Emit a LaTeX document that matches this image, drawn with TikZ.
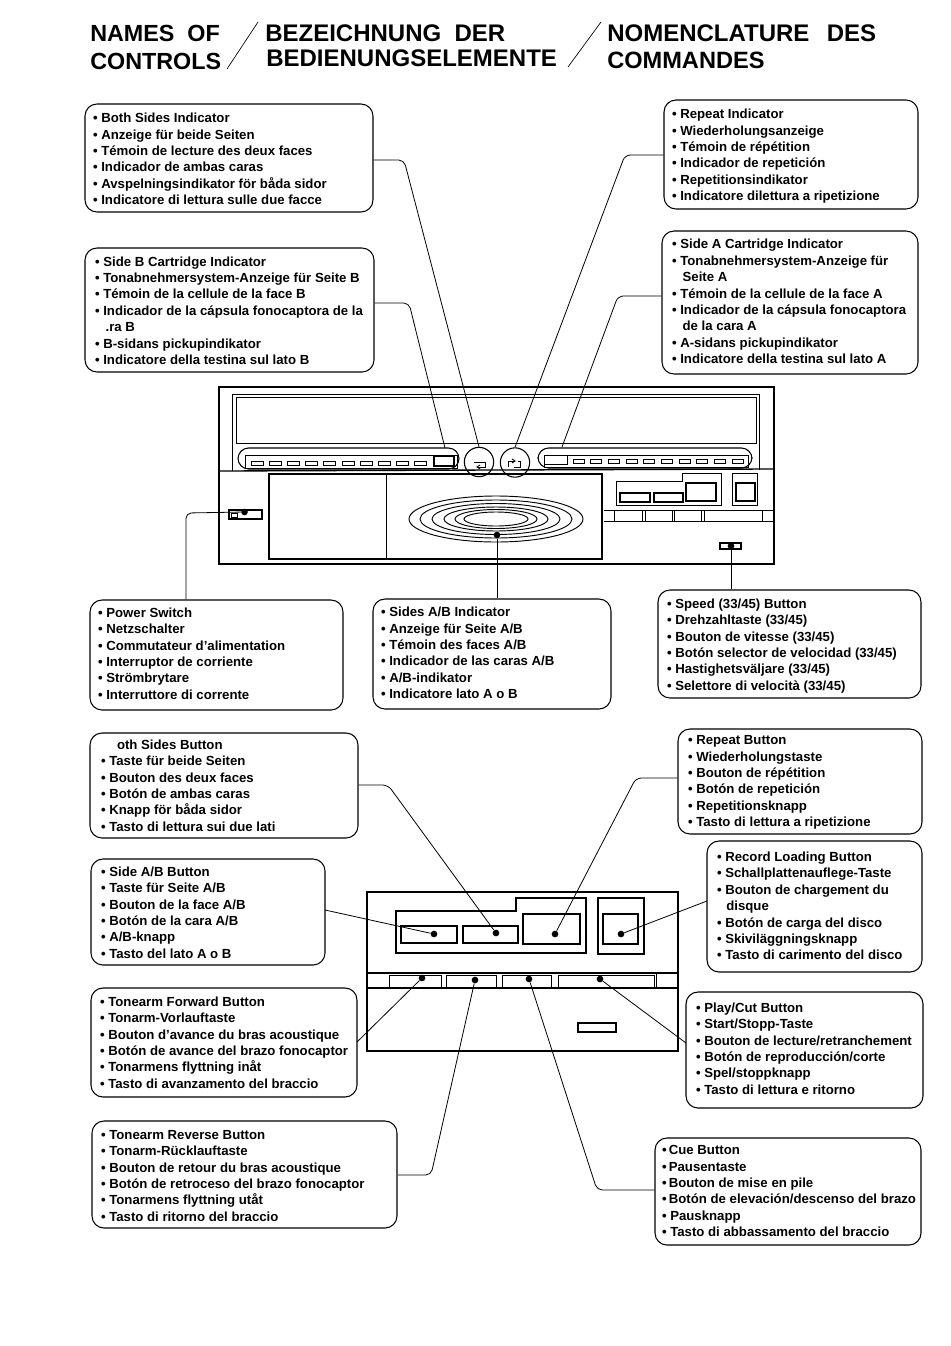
\documentclass[tikz,border=0pt]{standalone}
\usepackage{fontspec}
\setmainfont{Liberation Sans}
\usetikzlibrary{calc}
\newlength{\bw}\newlength{\bh}\newlength{\dyl}
\newlength{\pxu}\setlength{\pxu}{0.75pt}
% name, x1, y1, x2, y2, left pad (px), downward shift (px), lines
\newcommand{\infob}[8]{%
  \pgfmathsetlength{\bw}{(#4-#2)*0.75pt}\pgfmathsetlength{\bh}{(#5-#3)*0.75pt}\pgfmathsetlength{\dyl}{2*#7*0.75pt}%
  \node[infobox,minimum width=\bw,minimum height=\bh] (#1) at ({(#2+#4)/2},{(#3+#5)/2})
   {\vbox{\kern\dyl\hbox to \bw{\hskip #6\pxu\begin{tabular}[c]{@{}l@{}}#8\end{tabular}\hss}}};}
\newcommand{\pt}{•\ }
\newcommand{\tp}{•\,}
\tikzset{
  infobox/.style={draw=black,line width=0.8pt,rounded corners=9pt,inner sep=0pt,
    font=\bfseries\fontsize{9.9}{12.3}\selectfont},
  conn/.style={draw=black,line width=0.6pt,rounded corners=4pt},
  dev/.style={draw=black,line width=1pt},
  thin part/.style={draw=black,line width=0.7pt},
  knob/.style={circle,fill=black,inner sep=0pt,minimum size=5pt},
  ttl/.style={font=\bfseries\fontsize{18}{20}\selectfont,inner sep=0pt,anchor=west},
  slash/.style={draw=black,line width=0.5pt},
  ring/.style={draw=black,line width=0.7pt},
  badge/.style={circle,draw=black,line width=0.8pt,inner sep=0pt,minimum size=22pt},
}
\begin{document}
\begin{tikzpicture}[x=0.75pt,y=-0.75pt]
\useasboundingbox (0,0) rectangle (950,1346);
% title
\node[ttl,font=\bfseries\fontsize{17.5}{20}\selectfont] (t1) at (90,33) {NAMES\ \ OF};
\node[ttl,font=\bfseries\fontsize{17.5}{20}\selectfont] (t2) at (90,61) {CONTROLS};
\node[ttl] (t3) at (265,33) {BEZEICHNUNG\ \ DER};
\node[ttl] (t4) at (266,58) {BEDIENUNGSELEMENTE};
\node[ttl] (t5) at (607,33) {NOMENCLATURE\ \ \,DES};
\node[ttl,font=\bfseries\fontsize{17.7}{20}\selectfont] (t6) at (607,60) {COMMANDES};
\coordinate (s1a) at (258,22);\coordinate (s1b) at (227,69);
\coordinate (s2a) at (601,22);\coordinate (s2b) at (568,67);
\draw[slash] (s1a) -- (s1b);
\draw[slash] (s2a) -- (s2b);

% boxes
\infob{b1}{85}{104}{373}{212}{8}{2.5}{\pt Both Sides Indicator\\\pt Anzeige für beide Seiten\\\pt Témoin de lecture des deux faces\\\pt Indicador de ambas caras\\\pt Avspelningsindikator för båda sidor\\\pt Indicatore di lettura sulle due facce}
\infob{b2}{85}{248}{374}{372}{10}{2}{\pt Side B Cartridge Indicator\\\pt Tonabnehmersystem-Anzeige für Seite B\\\pt Témoin de la cellule de la face B\\\pt Indicador de la cápsula fonocaptora de la\\\hspace{8pt}.ra B\\\pt B-sidans pickupindikator\\\pt Indicatore della testina sul lato B}
\infob{b3}{664}{100}{918}{209}{8}{2}{\pt Repeat Indicator\\\pt Wiederholungsanzeige\\\pt Témoin de répétition\\\pt Indicador de repetición\\\pt Repetitionsindikator\\\pt Indicatore dilettura a ripetizione}
\infob{b4}{662}{231}{918}{374}{10}{0.5}{\pt Side A Cartridge Indicator\\\pt Tonabnehmersystem-Anzeige für\\\hspace{8pt}Seite A\\\pt Témoin de la cellule de la face A\\\pt Indicador de la cápsula fonocaptora\\\hspace{8pt}de la cara A\\\pt A-sidans pickupindikator\\\pt Indicatore della testina sul lato A}
\infob{b5}{90}{600}{343}{710}{8}{0}{\pt Power Switch\\\pt Netzschalter\\\pt Commutateur d'alimentation\\\pt Interruptor de corriente\\\pt Strömbrytare\\\pt Interruttore di corrente}
\infob{b6}{373}{599}{611}{709}{8}{0.5}{\pt Sides A/B Indicator\\\pt Anzeige für Seite A/B\\\pt Témoin des faces A/B\\\pt Indicador de las caras A/B\\\pt A/B-indikator\\\pt Indicatore lato A o B}
\infob{b7}{658}{590}{921}{698}{9}{2}{\pt Speed (33/45) Button\\\pt Drehzahltaste (33/45)\\\pt Bouton de vitesse (33/45)\\\pt Botón selector de velocidad (33/45)\\\pt Hastighetsväljare (33/45)\\\pt Selettore di velocità (33/45)}
\infob{b8}{90}{733}{358}{838}{11}{1.5}{\hspace{12pt}oth Sides Button\\\pt Taste für beide Seiten\\\pt Bouton des deux faces\\\pt Botón de ambas caras\\\pt Knapp för båda sidor\\\pt Tasto di lettura sui due lati}
\infob{b9}{678}{729}{922}{834}{10}{1}{\pt Repeat Button\\\pt Wiederholungstaste\\\pt Bouton de répétition\\\pt Botón de repetición\\\pt Repetitionsknapp\\\pt Tasto di lettura a ripetizione}
\infob{b10}{91}{859}{325}{965}{10}{2}{\pt Side A/B Button\\\pt Taste für Seite A/B\\\pt Bouton de la face A/B\\\pt Botón de la cara A/B\\\pt A/B-knapp\\\pt Tasto del lato A o B}
\infob{b11}{707}{841}{922}{972}{10}{1}{\pt Record Loading Button\\\pt Schallplattenauflege-Taste\\\pt Bouton de chargement du\\\hspace{7pt}disque\\\pt Botón de carga del disco\\\pt Skiviläggningsknapp\\\pt Tasto di carimento del disco}
\infob{b12}{91}{988}{357}{1097}{9}{1.5}{\pt Tonearm Forward Button\\\pt Tonarm-Vorlauftaste\\\pt Bouton d'avance du bras acoustique\\\pt Botón de avance del brazo fonocaptor\\\pt Tonarmens flyttning inåt\\\pt Tasto di avanzamento del braccio}
\infob{b13}{686}{992}{923}{1108}{10}{0}{\pt Play/Cut Button\\\pt Start/Stopp-Taste\\\pt Bouton de lecture/retranchement\\\pt Botón de reproducción/corte\\\pt Spel/stoppknapp\\\pt Tasto di lettura e ritorno}
\infob{b14}{92}{1121}{397}{1228}{9}{2.5}{\pt Tonearm Reverse Button\\\pt Tonarm-Rücklauftaste\\\pt Bouton de retour du bras acoustique\\\pt Botón de retroceso del brazo fonocaptor\\\pt Tonarmens flyttning utåt\\\pt Tasto di ritorno del braccio}
\infob{b15}{655}{1138}{921}{1245}{7}{1}{\tp Cue Button\\\tp Pausentaste\\\tp Bouton de mise en pile\\\tp Botón de elevación/descenso del brazo\\\pt Pausknapp\\\pt Tasto di abbassamento del braccio}

% upper device
\draw[dev] (219,387) rectangle (774,564);
\draw[dev] (219,471) -- (774,469);
\draw[thin part] (232,471) -- (232,394) -- (759,394) -- (759,470);
\draw[thin part] (236,443) -- (236,397) -- (756,397) -- (756,443) -- cycle;
\node[draw=black,line width=0.8pt,fill=white,rounded corners=8pt,inner sep=0pt,minimum width=165.75pt,minimum height=15.75pt] (pl) at (348.5,458.5) {};
\node[draw=black,line width=0.8pt,fill=white,rounded corners=8pt,inner sep=0pt,minimum width=160.5pt,minimum height=15pt] (pr) at (645,458) {};
\draw[thin part] (245,468) -- (245,455) -- (457,455) -- (457,468) -- cycle;
\draw[thin part] (544,467) -- (544,455) -- (748,455) -- (748,467) -- cycle;
\foreach \i in {0,...,9} {\draw[thin part] ({251+\i*18.2},461) rectangle ++(12,4.5);}
\foreach \i in {0,...,9} {\draw[thin part] ({573+\i*17.7},459) rectangle ++(11,4.5);}
\node[draw=black,line width=1pt,inner sep=0pt,minimum width=15pt,minimum height=7.5pt] (bl) at (444,461) {};
\node[draw=black,line width=1pt,inner sep=0pt,minimum width=17.25pt,minimum height=6.75pt] (br) at (556,460) {};
\node[badge] (cl) at (479,462) {};
\node[badge] (cr) at (515,462.5) {};
\draw[thin part] (474,462) -- (485,462) -- (485,467) -- (477,467);
\draw[thin part] (480,465) -- (477,467) -- (480,469);
\draw[thin part] (508,467) -- (508,461) -- (515,461);
\draw[thin part] (512,459) -- (515,461) -- (512,463);
\draw[thin part] (514,467) -- (520,467) -- (520,461) -- (518,461);
% panel
\draw[dev] (269,474) rectangle (602,559);
\draw[thin part] (386,474) -- (386,559);
\foreach \rx/\ry in {87/23,76/19,64/15.5,52/12,41/9.5,32/7} {\draw[ring] (496,519) ellipse ({\rx} and {\ry});}
\draw[thin part] (616,505) -- (616,481) -- (682,481) -- (682,473) -- (721,473) -- (721,505) -- cycle;
\draw[dev] (620,493) rectangle (650,502);
\draw[dev] (654,493) rectangle (683,502);
\draw[dev] (686,483) rectangle (716,501);
\draw[thin part] (732,473) rectangle (757,505);
\draw[dev] (736,483) rectangle (755,501);
\draw[thin part] (604,510) -- (774,510);
\draw[thin part] (604,521) -- (774,521);
\foreach \a/\b in {614/642,645/672,674/701,704/762} {\draw[thin part] (\a,510) rectangle (\b,521);}
\draw[dev] (229,510) rectangle (262,519);
\draw[thin part] (231,513) rectangle (237,517);
\draw[dev] (720,543) rectangle (741,549);
\node[knob] (dp) at (244.5,512) {};
\node[knob] (ds) at (497,535) {};
\node[knob] (dv) at (731,546) {};

% lower device
\draw[dev] (367,892) rectangle (678,1051);
\draw[dev] (396,953) -- (396,911) -- (516,911) -- (516,898) -- (586,898) -- (586,953) -- cycle;
\draw[dev] (401,926) rectangle (457,943);
\draw[dev] (463,926) rectangle (518,943);
\draw[dev] (523,914) rectangle (580,944);
\draw[dev] (598,898) rectangle (644,954);
\draw[dev] (603,914) rectangle (638,944);
\draw[dev] (367,973) -- (678,973);
\draw[dev] (367,988) -- (678,988);
\foreach \a/\b in {389/441,446/496,502/551,558/654} {\draw[thin part] (\a,988) -- (\a,975) -- (\b,975) -- (\b,988);}
\draw[thin part] (656,973) -- (656,988);
\draw[dev] (578,1023) rectangle (616,1032);
\node[knob] (k1) at (434,934) {};
\node[knob] (k2) at (496,933) {};
\node[knob] (k3) at (555,934) {};
\node[knob] (k4) at (621,934) {};
\node[knob] (k5) at (422,978) {};
\node[knob] (k6) at (475,980) {};
\node[knob] (k7) at (529,979) {};
\node[knob] (k8) at (600,979) {};

% connectors
\coordinate (a1) at (404,160);
\coordinate (a2) at (409,303);
\coordinate (a3) at (625,155);
\coordinate (a4) at (618,296);
\coordinate (a5) at (186,513);
\coordinate (a6) at (388,785);
\coordinate (a7) at (636,778);
\coordinate (a8) at (431,1175);
\coordinate (a9) at (597,1190);
\coordinate (e1) at (445,448);
\coordinate (e4) at (562,447);
\draw[conn] (b1.east |- a1) -- (a1) -- (cl.north);
\draw[conn] (b2.east |- a2) -- (a2) -- (e1);
\draw[conn] (b3.west |- a3) -- (a3) -- (cr.north);
\draw[conn] (b4.west |- a4) -- (a4) -- (e4);
\draw[conn] (b5.north -| a5) -- (a5) -- (dp);
\draw[conn] (b6.north -| ds) -- (ds);
\draw[conn] (b7.north -| dv) -- (dv);
\draw[conn] (b8.east |- a6) -- (a6) -- (k2);
\draw[conn] (b9.west |- a7) -- (a7) -- (k3);
\coordinate (p10) at (325,910);\coordinate (p11) at (707,901);\coordinate (p12) at (357,1042);\coordinate (p13) at (686,1043);
\draw[conn] (p10) -- (k1);
\draw[conn] (p11) -- (k4);
\draw[conn] (p12) -- (k5);
\draw[conn] (p13) -- (k8);
\draw[conn] (b14.east |- a8) -- (a8) -- (k6);
\draw[conn] (b15.west |- a9) -- (a9) -- (k7);
\end{tikzpicture}
\end{document}
